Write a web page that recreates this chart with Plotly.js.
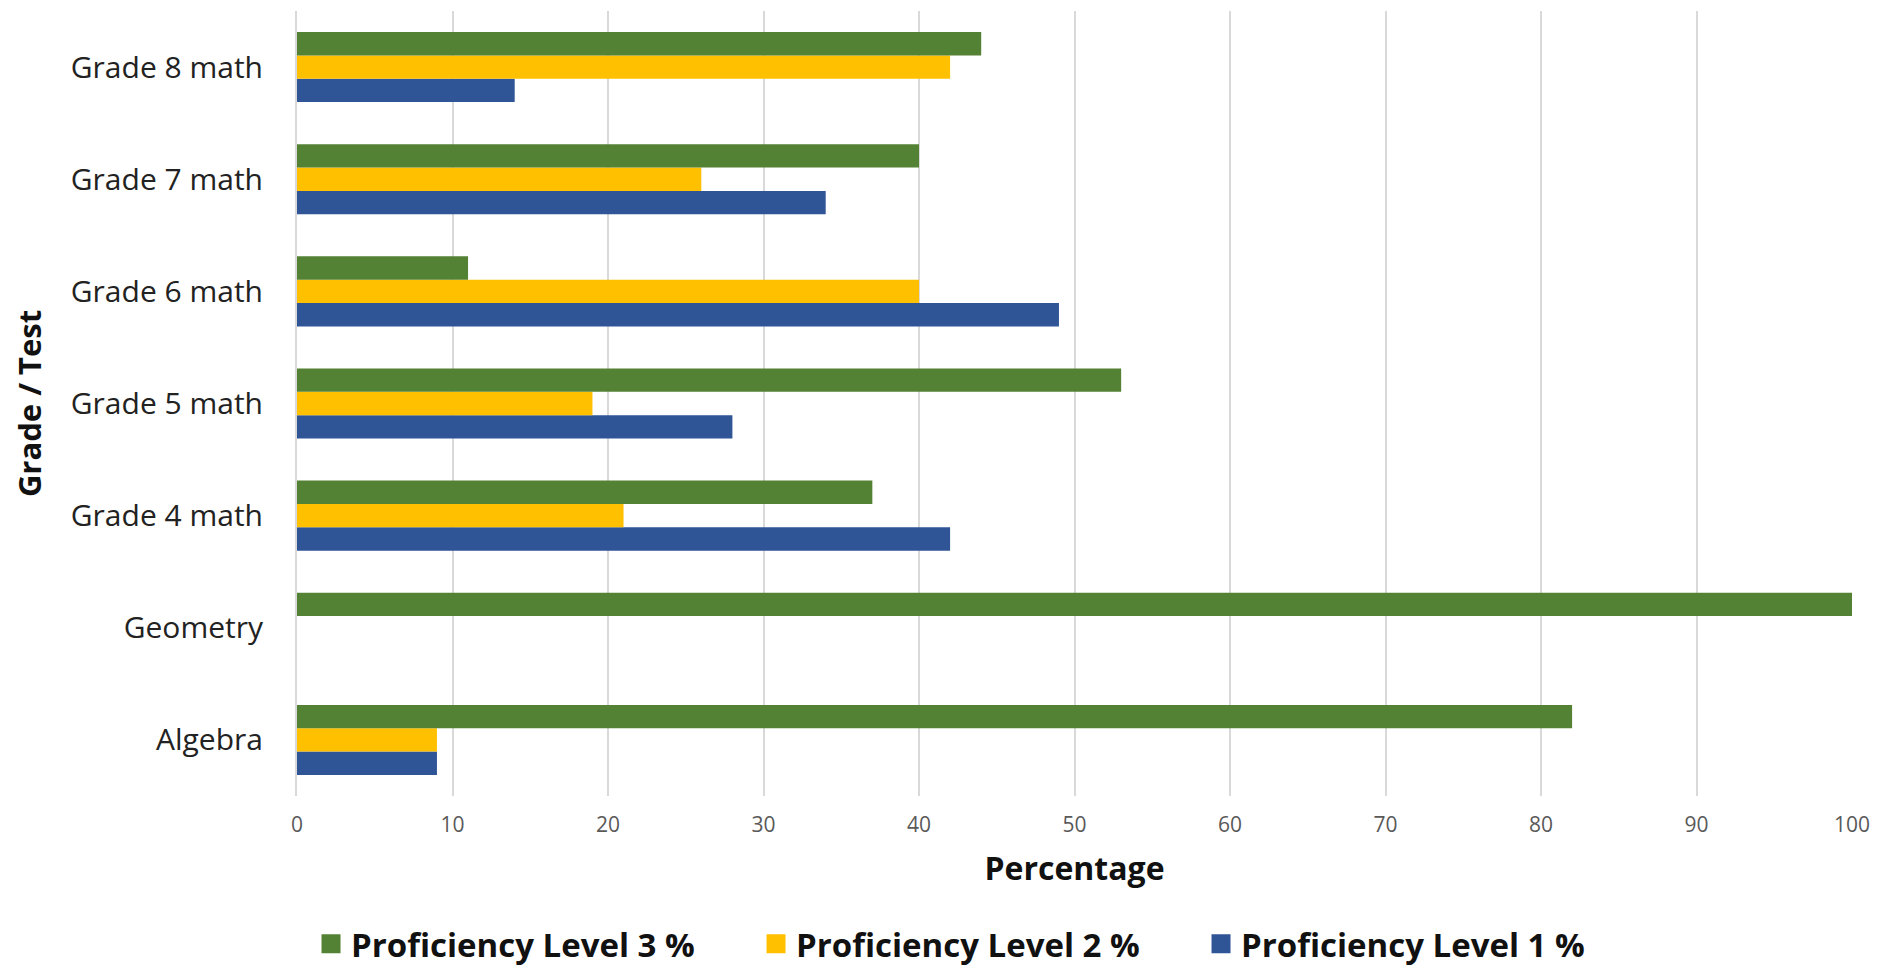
<!DOCTYPE html>
<html>
<head>
<meta charset="utf-8">
<script src="https://cdn.plot.ly/plotly-3.0.1.min.js"></script>
<style>html,body{margin:0;padding:0;background:#fff;}#chart{width:1877px;height:969px;}</style>
</head>
<body>
<div id="chart"></div>
<script>
var categories = ["Algebra", "Geometry", "Grade 4 math", "Grade 5 math", "Grade 6 math", "Grade 7 math", "Grade 8 math"];
var level1 = [9, 0, 42, 28, 49, 34, 14];
var level2 = [9, 0, 21, 19, 40, 26, 42];
var level3 = [82, 100, 37, 53, 11, 40, 44];
var seriesNames = ['Proficiency Level 1 %', 'Proficiency Level 2 %', 'Proficiency Level 3 %'];
var seriesColors = ['#2F5597', '#FFC000', '#548235'];
var xTicks = [0, 10, 20, 30, 40, 50, 60, 70, 80, 90, 100];

var seriesValues = [level1, level2, level3];
var traces = [];
seriesValues.forEach(function (vals, i) {
  traces.push({type: 'bar', orientation: 'h', name: seriesNames[i], y: categories, x: vals,
    marker: {color: seriesColors[i]}, showlegend: false, legendgroup: 'g' + i, hoverinfo: 'x+name'});
});
// legend entries (larger square swatches)
seriesValues.forEach(function (vals, i) {
  traces.push({type: 'scatter', mode: 'markers', name: seriesNames[i], x: [null], y: [null],
    legendgroup: 'g' + i, showlegend: true, hoverinfo: 'skip',
    marker: {symbol: 'square', size: 16, color: seriesColors[i], line: {color: seriesColors[i], width: 3}}});
});

var layout = {
  width: 1877, height: 969,
  paper_bgcolor: '#ffffff', plot_bgcolor: '#ffffff',
  font: {family: '"Open Sans", sans-serif', color: '#222222'},
  margin: {l: 297, r: 25, t: 11, b: 173, pad: 0},
  barmode: 'group', bargap: 0.375, bargroupgap: 0,
  showlegend: true,
  legend: {orientation: 'h', traceorder: 'reversed', itemsizing: 'trace',
           xref: 'container', yref: 'container',
           x: 0.1657, xanchor: 'left', y: 0.026, yanchor: 'middle',
           font: {size: 33, family: '"Open Sans", sans-serif', weight: 'bold', color: '#111111'},
           entrywidth: 400},
  xaxis: {
    range: [0, 100], tickvals: xTicks, ticktext: xTicks.map(String),
    showgrid: true, gridcolor: '#d9d9d9', gridwidth: 2,
    zeroline: false, showline: false,
    ticks: 'outside', ticklen: 10, tickcolor: 'rgba(0,0,0,0)',
    tickfont: {size: 21, color: '#595959'},
    title: {text: 'Percentage', font: {size: 32, weight: 'bold', color: '#111111'}, standoff: 20},
    fixedrange: true
  },
  yaxis: {
    type: 'category', categoryorder: 'array', categoryarray: categories,
    showgrid: false, zeroline: false,
    showline: true, linecolor: '#d9d9d9', linewidth: 2,
    ticks: 'outside', ticklen: 26, tickcolor: 'rgba(0,0,0,0)',
    tickfont: {size: 30, color: '#222222'},
    title: {text: 'Grade / Test', font: {size: 31, weight: 'bold', color: '#111111'}, standoff: 20},
    fixedrange: true
  }
};

Plotly.newPlot('chart', traces, layout, {displayModeBar: false, staticPlot: true});
</script>
</body>
</html>
